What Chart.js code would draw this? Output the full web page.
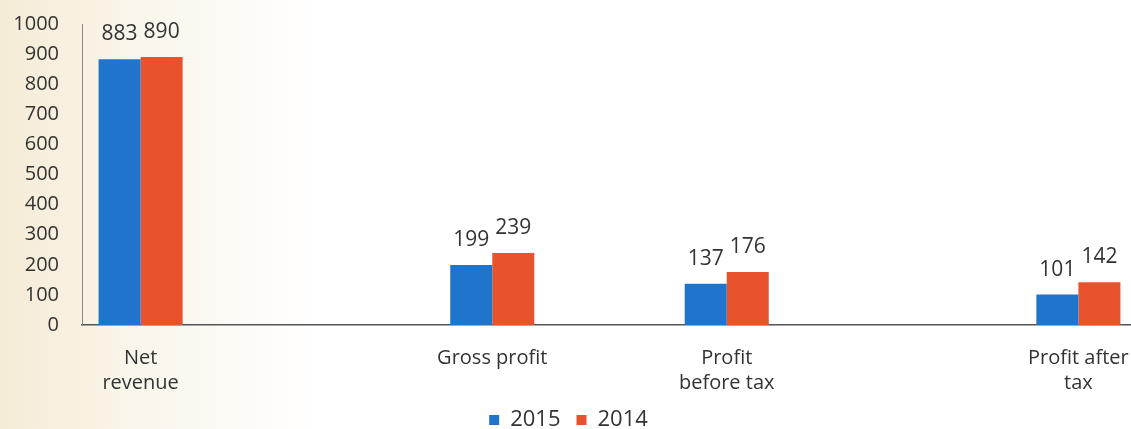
<!DOCTYPE html>
<html>
<head>
<meta charset="utf-8">
<script src="https://cdn.jsdelivr.net/npm/chart.js@4"></script>
<style>
  html, body { margin: 0; padding: 0; overflow: hidden; }
  body { width: 1131px; height: 429px; background: linear-gradient(to right, #f5ecd6 0px, #faf5ea 130px, #ffffff 320px); }
  #wrap { width: 1158px; height: 441px; position: relative; }
</style>
</head>
<body>
<div id="wrap"><canvas id="chart"></canvas></div>
<script>
// categories (empty slots keep the original uneven spacing)
const categories = [["Net", "revenue"], "", "", "Gross profit", "", ["Profit", "before tax"], "", "", ["Profit after", "tax"]];
const values2015 = [883, null, null, 199, null, 137, null, null, 101];
const values2014 = [890, null, null, 239, null, 176, null, null, 142];
const seriesNames = ["2015", "2014"];
const yTicks = [0, 100, 200, 300, 400, 500, 600, 700, 800, 900, 1000];

const FONT = "'Open Sans', sans-serif";

// value labels above bars
const barValues = {
    id: 'barValues',
    afterDatasetsDraw(chart) {
        const ctx = chart.ctx;
        ctx.save();
        ctx.font = "21px " + FONT;
        ctx.fillStyle = '#333333';
        ctx.textAlign = 'center';
        ctx.textBaseline = 'middle';
        chart.data.datasets.forEach((ds, i) => {
            chart.getDatasetMeta(i).data.forEach((bar, j) => {
                const v = ds.data[j];
                if (v === null || v === undefined) return;
                ctx.fillText(String(v), bar.x, bar.y - 25);
            });
        });
        ctx.restore();
    }
};

new Chart(document.getElementById('chart'), {
    type: 'bar',
    data: {
        labels: categories,
        datasets: [
            { label: seriesNames[0], data: values2015, backgroundColor: '#1f74cc' },
            { label: seriesNames[1], data: values2014, backgroundColor: '#e8532d' }
        ]
    },
    options: {
        responsive: true,
        maintainAspectRatio: false,
        animation: false,
        layout: { padding: { top: 24, right: 21, left: 0, bottom: 0 } },
        datasets: { bar: { categoryPercentage: 0.717, barPercentage: 1 } },
        scales: {
            x: {
                grid: { display: false, drawTicks: false },
                border: { display: true, color: '#555555', width: 1.5 },
                ticks: {
                    autoSkip: false,
                    maxRotation: 0,
                    padding: 21,
                    color: '#333333',
                    font: { family: FONT, size: 20, lineHeight: 1.25 }
                },
                afterFit(scale) { scale.height = 68; }
            },
            y: {
                min: 0,
                max: 1000,
                afterBuildTicks(scale) { scale.ticks = yTicks.map(v => ({ value: v })); },
                grid: { display: false, drawTicks: false },
                border: { display: true, color: '#8a8a8a', width: 1 },
                ticks: {
                    padding: 23,
                    color: '#333333',
                    font: { family: FONT, size: 20 },
                    callback: v => String(v)
                },
                afterFit(scale) {
                    scale.width = 82;
                    scale.paddingTop = 0;
                    scale.paddingBottom = 0;
                }
            }
        },
        plugins: {
            legend: {
                position: 'bottom',
                labels: {
                    boxWidth: 10,
                    boxHeight: 10,
                    padding: 16,
                    color: '#333333',
                    font: { family: FONT, size: 22 }
                }
            },
            tooltip: { enabled: false }
        }
    },
    plugins: [barValues]
});
</script>
</body>
</html>
